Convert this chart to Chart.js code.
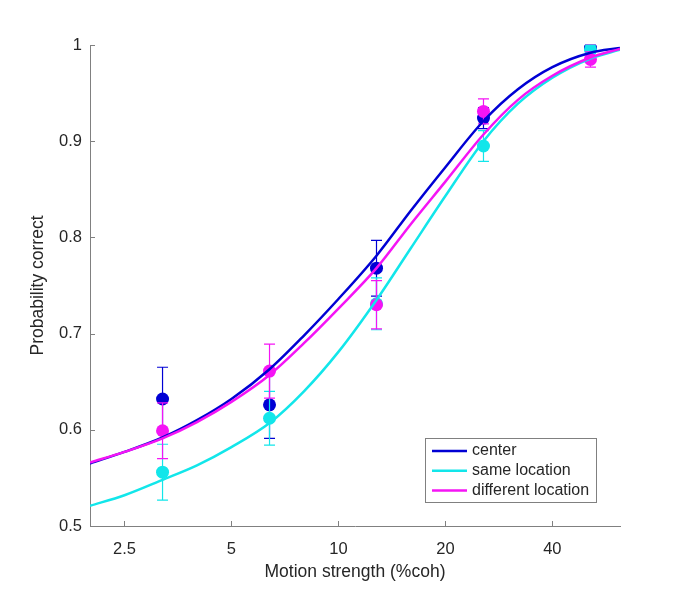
<!DOCTYPE html>
<html>
<head>
<meta charset="utf-8">
<script src="https://cdn.jsdelivr.net/npm/chart.js@4.4.1/dist/chart.umd.min.js"></script>
<style>
  html, body { margin: 0; padding: 0; background: #fff; }
  #wrap { width: 685px; height: 593px; }
</style>
</head>
<body>
<div id="wrap"><canvas id="psycho"></canvas></div>
<script>
// motion strengths tested (%coh)
const coh = [3.2, 6.4, 12.8, 25.6, 51.2];

// observed proportion correct and error bar half-lengths
const centerPc = [0.632, 0.626, 0.768, 0.924, 0.997];
const centerErr = [0.033, 0.035, 0.029, 0.011, 0.003];
const samePc = [0.556, 0.612, 0.731, 0.895, 0.995];
const sameErr = [0.029, 0.028, 0.027, 0.016, 0.004];
const diffPc = [0.599, 0.661, 0.730, 0.931, 0.985];
const diffErr = [0.029, 0.028, 0.025, 0.013, 0.008];

// fitted curves
const fitCoh = [2, 2.5, 3.2, 4, 5, 6.4, 8, 10, 12.8, 16, 20, 25.6, 32, 40, 51.2, 62];
const centerFit = [0.565, 0.577, 0.592, 0.610, 0.632, 0.663, 0.698, 0.736, 0.781, 0.828, 0.873, 0.921, 0.954, 0.977, 0.992, 0.997];
const sameFit = [0.521, 0.532, 0.548, 0.563, 0.582, 0.607, 0.640, 0.681, 0.735, 0.789, 0.843, 0.900, 0.939, 0.966, 0.986, 0.995];
const diffFit = [0.566, 0.577, 0.591, 0.608, 0.629, 0.657, 0.690, 0.726, 0.768, 0.814, 0.858, 0.907, 0.943, 0.968, 0.987, 0.996];

const seriesNames = ['center', 'same location', 'different location'];
const seriesColors = ['#0000d4', '#12e6ea', '#f514f5'];

const xTicks = [2.5, 5, 10, 20, 40];
const yTicks = [0.5, 0.6, 0.7, 0.8, 0.9, 1];

const fontFamily = '"Liberation Sans", Arial, Helvetica, sans-serif';
const textColor = '#262626';
const axisColor = '#808080';

function pts(xs, ys) {
    return xs.map((x, i) => ({ x: x, y: ys[i] }));
}

function fitSet(label, ys, color, order) {
    return {
        type: 'line',
        label: label,
        data: pts(fitCoh, ys),
        borderColor: color,
        borderWidth: 2.5,
        pointRadius: 0,
        fill: false,
        cubicInterpolationMode: 'monotone',
        order: order
    };
}

function dotSet(label, ys, errs, color, order) {
    return {
        type: 'scatter',
        label: label,
        data: pts(coh, ys),
        errorBars: errs,
        backgroundColor: color,
        borderColor: color,
        borderWidth: 0,
        pointRadius: 6.5,
        showLine: false,
        order: order
    };
}

// vertical error bars with caps, drawn just before each dot series
const errorBarPlugin = {
    id: 'errorBars',
    beforeDatasetDraw(chart, args) {
        const ds = chart.data.datasets[args.index];
        if (!ds.errorBars) return;
        const ctx = chart.ctx;
        const xs = chart.scales.x, ys = chart.scales.y;
        ctx.save();
        ctx.strokeStyle = ds.borderColor;
        ctx.lineWidth = 1.2;
        ds.data.forEach((p, i) => {
            const e = ds.errorBars[i];
            const px = xs.getPixelForValue(p.x);
            const top = ys.getPixelForValue(p.y + e);
            const bot = ys.getPixelForValue(p.y - e);
            ctx.beginPath();
            ctx.moveTo(px, top); ctx.lineTo(px, bot);
            ctx.moveTo(px - 5.5, top); ctx.lineTo(px + 5.5, top);
            ctx.moveTo(px - 5.5, bot); ctx.lineTo(px + 5.5, bot);
            ctx.stroke();
        });
        ctx.restore();
    }
};

// MATLAB style inward tick marks
const innerTicks = {
    id: 'innerTicks',
    afterDraw(chart) {
        const ctx = chart.ctx;
        const a = chart.chartArea;
        ctx.save();
        ctx.strokeStyle = axisColor;
        ctx.lineWidth = 1;
        ctx.beginPath();
        xTicks.forEach(v => {
            const px = Math.round(chart.scales.x.getPixelForValue(v)) + 0.5;
            ctx.moveTo(px, a.bottom); ctx.lineTo(px, a.bottom - 5);
        });
        yTicks.forEach(v => {
            const py = Math.round(chart.scales.y.getPixelForValue(v)) + 0.5;
            ctx.moveTo(a.left, py); ctx.lineTo(a.left + 5, py);
        });
        ctx.stroke();
        ctx.restore();
    }
};

// boxed legend in the lower right of the axes
const boxLegend = {
    id: 'boxLegend',
    afterDraw(chart) {
        const ctx = chart.ctx;
        const a = chart.chartArea;
        const w = 171, h = 64;
        const x0 = a.right - 24 - w, y0 = a.bottom - 24 - h;
        ctx.save();
        ctx.fillStyle = '#fff';
        ctx.fillRect(x0, y0, w, h);
        ctx.strokeStyle = axisColor;
        ctx.lineWidth = 1;
        ctx.strokeRect(x0 + 0.5, y0 + 0.5, w, h);
        ctx.font = '16px ' + fontFamily;
        ctx.textBaseline = 'middle';
        seriesNames.forEach((name, i) => {
            const yy = y0 + 13 + i * 19.8;
            ctx.strokeStyle = seriesColors[i];
            ctx.lineWidth = 2.5;
            ctx.beginPath();
            ctx.moveTo(x0 + 7, yy); ctx.lineTo(x0 + 42, yy);
            ctx.stroke();
            ctx.fillStyle = textColor;
            ctx.fillText(name, x0 + 47, yy);
        });
        ctx.restore();
    }
};

new Chart(document.getElementById('psycho'), {
    type: 'scatter',
    data: {
        datasets: [
            fitSet(seriesNames[0], centerFit, seriesColors[0], 3),
            fitSet(seriesNames[1], sameFit, seriesColors[1], 2),
            fitSet(seriesNames[2], diffFit, seriesColors[2], 1),
            dotSet(seriesNames[0], centerPc, centerErr, seriesColors[0], 6),
            dotSet(seriesNames[1], samePc, sameErr, seriesColors[1], 5),
            dotSet(seriesNames[2], diffPc, diffErr, seriesColors[2], 4)
        ]
    },
    options: {
        responsive: true,
        maintainAspectRatio: false,
        animation: false,
        devicePixelRatio: 1,
        layout: { padding: { top: 45, right: 65, left: 0, bottom: 0 } },
        plugins: {
            legend: { display: false },
            tooltip: { enabled: false }
        },
        scales: {
            x: {
                type: 'logarithmic',
                min: 2,
                max: 62,
                afterBuildTicks: s => { s.ticks = xTicks.map(v => ({ value: v })); },
                afterFit: s => { s.height = 67; },
                grid: { display: false, drawTicks: false },
                border: { display: true, color: axisColor, width: 1 },
                ticks: {
                    callback: v => String(v),
                    autoSkip: false,
                    maxRotation: 0,
                    padding: 14,
                    color: textColor,
                    font: { family: fontFamily, size: 16.5 }
                },
                title: {
                    display: true,
                    text: 'Motion strength (%coh)',
                    color: textColor,
                    font: { family: fontFamily, size: 17.5 },
                    padding: { top: 0, bottom: 10 }
                }
            },
            y: {
                min: 0.5,
                max: 1,
                afterBuildTicks: s => { s.ticks = yTicks.map(v => ({ value: v })); },
                afterFit: s => { s.width = 90; },
                grid: { display: false, drawTicks: false },
                border: { display: true, color: axisColor, width: 1 },
                ticks: {
                    callback: v => String(v),
                    padding: 8,
                    color: textColor,
                    font: { family: fontFamily, size: 16.5 }
                },
                title: {
                    display: true,
                    text: 'Probability correct',
                    color: textColor,
                    font: { family: fontFamily, size: 17.5 },
                    padding: { top: 28, bottom: 0 }
                }
            }
        }
    },
    plugins: [errorBarPlugin, innerTicks, boxLegend]
});
</script>
</body>
</html>
